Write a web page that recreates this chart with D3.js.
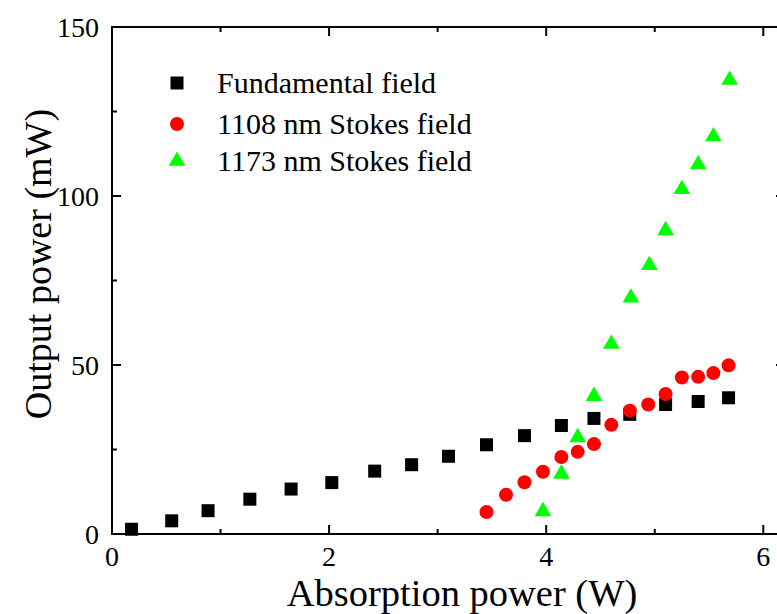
<!DOCTYPE html>
<html>
<head>
<meta charset="utf-8">
<script src="https://cdn.jsdelivr.net/npm/d3@7"></script>
<style>
  body { margin: 0; background: #fff; }
  svg { display: block; font-family: "Liberation Serif", "Times New Roman", serif; }
</style>
</head>
<body>
<svg id="chart" width="777" height="614"></svg>
<script>
// data (absorbed pump in W, output in mW)
var fundX = [0.18, 0.55, 0.885, 1.27, 1.65, 2.025, 2.42, 2.76, 3.10, 3.45, 3.80, 4.14, 4.44, 4.77, 5.10, 5.40, 5.68];
var fundY = [1.4, 3.9, 6.9, 10.3, 13.3, 15.2, 18.6, 20.5, 23.0, 26.4, 29.1, 32.1, 34.2, 35.4, 38.3, 39.2, 40.3];

var s1108X = [3.45, 3.63, 3.80, 3.97, 4.14, 4.29, 4.44, 4.60, 4.77, 4.94, 5.10, 5.25, 5.40, 5.54, 5.68];
var s1108Y = [6.5, 11.6, 15.3, 18.4, 22.8, 24.3, 26.6, 32.3, 36.5, 38.3, 41.4, 46.3, 46.5, 47.6, 49.9];

var s1173X = [3.97, 4.14, 4.29, 4.44, 4.60, 4.78, 4.95, 5.10, 5.25, 5.40, 5.54, 5.69];
var s1173Y = [6.7, 17.8, 28.6, 40.8, 56.2, 69.9, 79.5, 89.8, 102.0, 109.3, 117.6, 134.3];

var legendLabels = ["Fundamental field", "1108 nm Stokes field", "1173 nm Stokes field"];
var xTicks = [0, 2, 4, 6];
var yTicks = [0, 50, 100, 150];

var svg = d3.select("#chart");
var margin = {left: 112, top: 27, right: 785, bottom: 534};

var x = d3.scaleLinear().domain([0, 6.2]).range([margin.left, margin.right]);
var y = d3.scaleLinear().domain([0, 150]).range([margin.bottom, margin.top]);

// frame
svg.append("rect")
   .attr("x", margin.left).attr("y", margin.top)
   .attr("width", margin.right - margin.left)
   .attr("height", margin.bottom - margin.top)
   .attr("fill", "none").attr("stroke", "#000").attr("stroke-width", 2);

// ticks, inward on all four sides
var xMinor = d3.range(0, 7, 1);
var yMinor = d3.range(0, 151, 25);
function tickLen(v, majors) { return majors.indexOf(v) >= 0 ? 9 : 5; }

var tg = svg.append("g").attr("stroke", "#000").attr("stroke-width", 2);
xMinor.forEach(function(v) {
  var L = tickLen(v, xTicks);
  tg.append("line").attr("x1", x(v)).attr("x2", x(v)).attr("y1", margin.bottom).attr("y2", margin.bottom - L);
  tg.append("line").attr("x1", x(v)).attr("x2", x(v)).attr("y1", margin.top).attr("y2", margin.top + L);
});
yMinor.forEach(function(v) {
  var L = tickLen(v, yTicks);
  tg.append("line").attr("y1", y(v)).attr("y2", y(v)).attr("x1", margin.left).attr("x2", margin.left + L);
  tg.append("line").attr("y1", y(v)).attr("y2", y(v)).attr("x1", margin.right).attr("x2", margin.right - L);
});

// tick labels
svg.selectAll(".xl").data(xTicks).enter().append("text")
   .attr("x", function(d) { return x(d); })
   .attr("y", 566)
   .attr("text-anchor", "middle")
   .attr("font-size", 28)
   .text(function(d) { return d; });

svg.selectAll(".yl").data(yTicks).enter().append("text")
   .attr("x", 99)
   .attr("y", function(d) { return y(d) + 9.5; })
   .attr("text-anchor", "end")
   .attr("font-size", 28)
   .text(function(d) { return d; });

// axis titles
svg.append("text")
   .attr("x", 462).attr("y", 606)
   .attr("text-anchor", "middle")
   .attr("font-size", 38.5)
   .text("Absorption power (W)");

svg.append("text")
   .attr("transform", "translate(51,264) rotate(-90)")
   .attr("text-anchor", "middle")
   .attr("font-size", 38)
   .text("Output power (mW)");

// markers
var sq = 13;
svg.append("g").selectAll("rect").data(fundX).enter().append("rect")
   .attr("x", function(d) { return x(d) - sq / 2; })
   .attr("y", function(d, i) { return y(fundY[i]) - sq / 2; })
   .attr("width", sq).attr("height", sq)
   .attr("fill", "#000");

svg.append("g").selectAll("circle").data(s1108X).enter().append("circle")
   .attr("cx", function(d) { return x(d); })
   .attr("cy", function(d, i) { return y(s1108Y[i]); })
   .attr("r", 7)
   .attr("fill", "#ff0000");

var tri = d3.symbol().type(d3.symbolTriangle).size(120);
svg.append("g").selectAll("path").data(s1173X).enter().append("path")
   .attr("d", tri)
   .attr("transform", function(d, i) { return "translate(" + x(d) + "," + y(s1173Y[i]) + ")"; })
   .attr("fill", "#00ff00");

// legend
var legY = [83, 124, 161];
var lg = svg.append("g");
lg.append("rect").attr("x", 177 - sq / 2).attr("y", legY[0] - sq / 2).attr("width", sq).attr("height", sq).attr("fill", "#000");
lg.append("circle").attr("cx", 177).attr("cy", legY[1]).attr("r", 7).attr("fill", "#ff0000");
lg.append("path").attr("d", tri).attr("transform", "translate(177," + legY[2] + ")").attr("fill", "#00ff00");

lg.selectAll("text").data(legendLabels).enter().append("text")
  .attr("x", 217)
  .attr("y", function(d, i) { return legY[i] + 10; })
  .attr("font-size", 30)
  .text(function(d) { return d; });
</script>
</body>
</html>
